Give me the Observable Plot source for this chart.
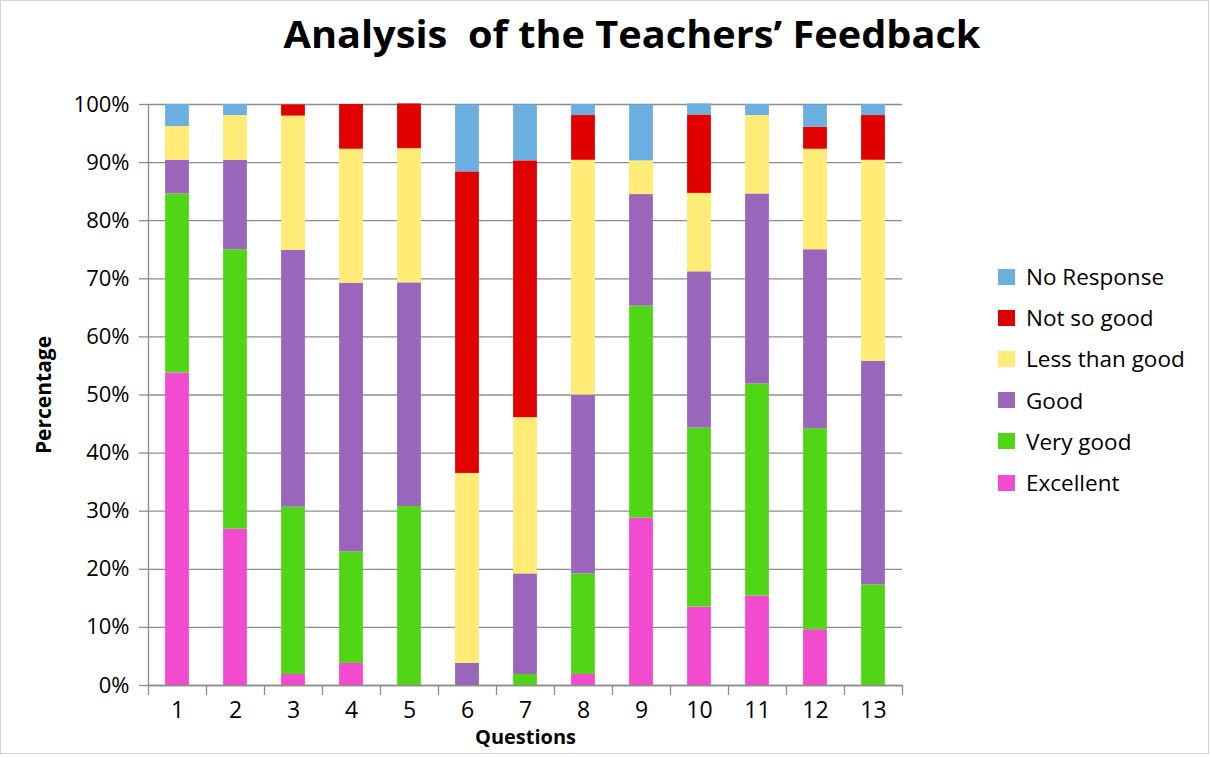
<!DOCTYPE html>
<html>
<head>
<meta charset="utf-8">
<script src="https://cdn.jsdelivr.net/npm/d3@7"></script>
<script src="https://cdn.jsdelivr.net/npm/@observablehq/plot@0.6"></script>
<style>
  html, body { margin: 0; padding: 0; background: #fff; }
  body { font-family: "Open Sans", sans-serif; color: #000; }
  #wrap { position: relative; width: 1211px; height: 758px; overflow: hidden; background: #fff; }
  #frame { position: absolute; left: 0; top: 0; width: 1207px; height: 752px; border: 1px solid #d4d4d4; pointer-events: none; }
  #title { position: absolute; top: 15px; left: 632px; white-space: nowrap; font-weight: 700; font-size: 37px; line-height: 1; transform-origin: center; }
  #chart { position: absolute; left: 0; top: 0; }
  #legend { position: absolute; left: 998px; top: 256px; font-size: 22.5px; }
  .row { display: flex; align-items: center; height: 41.2px; white-space: nowrap; }
  .sw { width: 17px; height: 16px; margin-right: 11px; flex: none; }
</style>
</head>
<body>
<div id="wrap">
  <div id="chart"></div>
  <div id="title"></div>
  <div id="legend"></div>
  <div id="frame"></div>
</div>
<script>
// ---- Data (percentages) ----
const titleText = "Analysis\u00a0 of the Teachers\u2019 Feedback";
const xLabel = "Questions";
const yLabel = "Percentage";
const questions = [1, 2, 3, 4, 5, 6, 7, 8, 9, 10, 11, 12, 13];
const series = ["Excellent", "Very good", "Good", "Less than good", "Not so good", "No Response"];
const colors = ["#F34BCF", "#50D616", "#9966BB", "#FFEB76", "#E00000", "#6BAFE0"];
const yTicks = [0, 10, 20, 30, 40, 50, 60, 70, 80, 90, 100];

const excellent    = [53.8, 26.9,  1.9,  3.8,  0.0,  0.0,  0.0,  1.9, 28.8, 13.5, 15.4,  9.6,  0.0];
const veryGood     = [30.8, 48.1, 28.8, 19.2, 30.8,  0.0,  1.9, 17.3, 36.5, 30.8, 36.5, 34.6, 17.3];
const good         = [ 5.8, 15.4, 44.2, 46.2, 38.5,  3.8, 17.3, 30.8, 19.2, 26.9, 32.7, 30.8, 38.5];
const lessThanGood = [ 5.8,  7.7, 23.1, 23.1, 23.1, 32.7, 26.9, 40.4,  5.8, 13.5, 13.5, 17.3, 34.6];
const notSoGood    = [ 0.0,  0.0,  1.9,  7.7,  7.7, 51.9, 44.2,  7.7,  0.0, 13.5,  0.0,  3.8,  7.7];
const noResponse   = [ 3.8,  1.9,  0.0,  0.0,  0.0, 11.5,  9.6,  1.9,  9.6,  1.9,  1.9,  3.8,  1.9];

const seriesValues = [excellent, veryGood, good, lessThanGood, notSoGood, noResponse];

// Long table for Plot
const rows = [];
questions.forEach((q, i) => {
  series.forEach((s, j) => rows.push({q, series: s, value: seriesValues[j][i]}));
});
const boundaries = questions.map(q => q - 0.5).concat([questions[questions.length - 1] + 0.5]);

const gray = "#8c8c8c";
const half = 0.205;

const plot = Plot.plot({
  width: 1211,
  height: 758,
  marginLeft: 148,
  marginRight: 309,
  marginTop: 104,
  marginBottom: 73,
  style: {fontFamily: '"Open Sans", sans-serif', fontSize: "22px", color: "#000", background: "transparent", overflow: "visible"},
  x: {domain: [boundaries[0], boundaries[boundaries.length - 1]], axis: null},
  y: {domain: [0, 100], axis: null},
  color: {domain: series, range: colors},
  marks: [
    Plot.ruleY(yTicks, {stroke: gray, strokeWidth: 1.3}),
    Plot.rectY(rows, Plot.stackY({
      x1: d => d.q - half,
      x2: d => d.q + half,
      y: "value",
      fill: "series"
    })),
    Plot.ruleY([0], {stroke: gray, strokeWidth: 1.3}),
    Plot.ruleX([boundaries[0]], {stroke: gray, strokeWidth: 1.3}),
    Plot.axisY(yTicks, {tickSize: 9, tickPadding: 10, tickFormat: d => d + "%", stroke: gray, strokeWidth: 1.3, fill: "#000", fontSize: 22, label: null}),
    Plot.axisX(boundaries, {tickSize: 10, tickFormat: () => "", stroke: gray, strokeWidth: 1.3, label: null}),
    Plot.axisX(questions, {tickSize: 0, tickPadding: 16, fill: "#000", fontSize: 23, label: null}),
    Plot.text([xLabel], {frameAnchor: "bottom", dy: 58, fontWeight: "bold", fontSize: 20, fill: "#000"}),
    Plot.text([yLabel], {frameAnchor: "left", textAnchor: "middle", dx: -104, rotate: -90, fontWeight: "bold", fontSize: 21, fill: "#000"})
  ]
});
document.getElementById("chart").appendChild(plot);

// Title
const t = document.getElementById("title");
t.textContent = titleText;
const w = t.getBoundingClientRect().width;
t.style.transform = `translateX(-50%) scaleX(${697 / w})`;

// Legend (top = last series)
const legend = document.getElementById("legend");
series.slice().reverse().forEach(s => {
  const row = document.createElement("div");
  row.className = "row";
  const sw = document.createElement("span");
  sw.className = "sw";
  sw.style.background = colors[series.indexOf(s)];
  const lab = document.createElement("span");
  lab.textContent = s;
  row.appendChild(sw);
  row.appendChild(lab);
  legend.appendChild(row);
});
</script>
</body>
</html>
